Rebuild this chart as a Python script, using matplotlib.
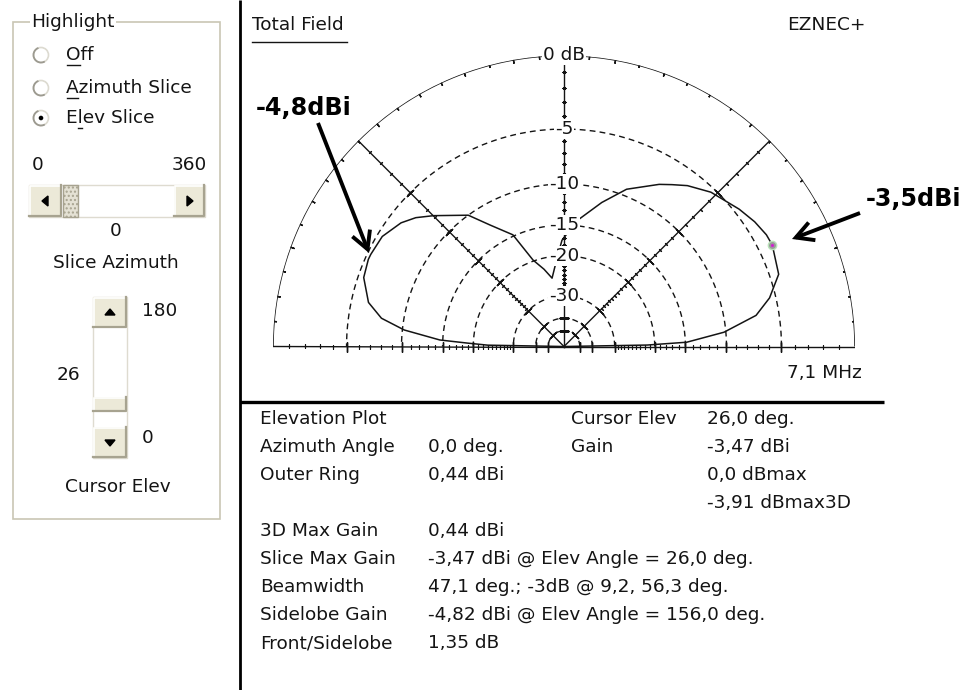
import numpy as np
import matplotlib
matplotlib.use("Agg")
import matplotlib.pyplot as plt
from matplotlib.patches import Rectangle, Circle, Arc, Polygon, FancyArrowPatch
from matplotlib.font_manager import FontProperties

plt.rcParams['font.family'] = ['DejaVu Sans']

W, H, DPI = 966, 690, 100

# ---- elevation pattern (total field, azimuth 0 deg, 7.1 MHz) ----
elev_deg = [0, 1, 2.0, 5.1, 9.2, 13.3, 18.6, 26, 28.9, 33.2, 38.1, 46.4, 52.5,
            56.3, 59.6, 68.3, 75.3, 84.1, 91.1, 94.5, 99.9, 104.5, 109.7, 114.6,
            121.3, 126.1, 134.9, 139, 142.8, 148.8, 154.5, 156, 161, 167.3,
            171.2, 174.1, 177, 178, 179, 180]
gain_dbi = [-98.56, -21.06, -14.36, -9.76, -6.47, -5.06, -3.86, -3.47, -3.51,
            -3.76, -4.16, -4.91, -5.76, -6.47, -7.06, -8.86, -11.06, -13.86,
            -16.86, -19.96, -24.16, -21.76, -19.36, -14.36, -11.86, -9.56,
            -7.36, -6.31, -5.61, -4.96, -4.83, -4.82, -5.01, -5.96, -7.36,
            -9.76, -14.16, -18.56, -22.56, -98.56]

outer_ring_dbi = 0.44
cursor_elev = 26.0
cursor_gain = -3.47

ring_levels = [-5, -10, -15, -20, -30, -40, -50]          # dB below outer ring
ring_labels = ["-5", "-10", "-15", "-20", "-30", None, None]
minor_levels = [-d for d in range(1, 31) if -d not in ring_levels]

info_labels = ["Elevation Plot", "Azimuth Angle", "Outer Ring", "",
               "3D Max Gain", "Slice Max Gain", "Beamwidth", "Sidelobe Gain",
               "Front/Sidelobe"]
info_values = ["", "0,0 deg.", "0,44 dBi", "",
               "0,44 dBi", "-3,47 dBi @ Elev Angle = 26,0 deg.",
               "47,1 deg.; -3dB @ 9,2, 56,3 deg.",
               "-4,82 dBi @ Elev Angle = 156,0 deg.", "1,35 dB"]
cursor_labels = ["Cursor Elev", "Gain", "", ""]
cursor_values = ["26,0 deg.", "-3,47 dBi", "0,0 dBmax", "-3,91 dBmax3D"]

FS = 13.3
FONT = 'DejaVu Sans'
INK = '#141414'

fig = plt.figure(figsize=(W / DPI, H / DPI), dpi=DPI)
fig.patch.set_facecolor('white')

# ---- polar plot on the ARRL log scale ----
cx, cy, R = 564.0, 346.5, 291.0
pax = fig.add_axes([(cx - R) / W, (H - cy - R) / H, 2 * R / W, 2 * R / H],
                   projection='polar')
REF = outer_ring_dbi
FLOOR = -200.0


def fwd(g):
    return 0.89 ** (-(np.asarray(g, float) - REF) / 2.0)


def inv(r):
    r = np.clip(np.asarray(r, float), 1e-300, None)
    return REF - 2.0 * np.log(r) / np.log(0.89)


pax.set_rscale('function', functions=(fwd, inv))
pax.set_rlim(FLOOR, REF)
pax.set_xticks([])
pax.set_yticks([])
pax.grid(False)
pax.spines['polar'].set_visible(False)
pax.patch.set_alpha(0)

half = np.linspace(0, np.pi, 721)
# outer ring
pax.plot(half, np.full_like(half, REF), color=INK, lw=1.1, solid_capstyle='butt')
# dashed rings
for lev in ring_levels:
    pax.plot(half, np.full_like(half, REF + lev), color=INK, lw=1.0,
             linestyle=(0, (4.2, 3.0)))

# radial axes: baseline, 45, 90, 135 degrees
for ang in [0, 45, 90, 135, 180]:
    th = np.radians(ang)
    pax.plot([th, th], [FLOOR, REF], color=INK, lw=1.0)
    pax.plot(np.full(len(minor_levels), th), [REF + m for m in minor_levels],
             linestyle='none', marker=(2, 2, ang), markersize=2.6,
             markeredgecolor=INK, markeredgewidth=0.8)
    pax.plot(np.full(len(ring_levels), th), [REF + m for m in ring_levels],
             linestyle='none', marker=(2, 2, ang), markersize=7.0,
             markeredgecolor=INK, markeredgewidth=1.0)

# ticks on the outer ring every 5 degrees
for ang in range(5, 180, 5):
    pax.plot([np.radians(ang)], [REF], linestyle='none',
             marker=(2, 2, ang - 90), markersize=3.6 if ang % 10 else 4.6,
             markeredgecolor=INK, markeredgewidth=1.0)

# ring labels along the vertical axis
lab_box = dict(facecolor='white', edgecolor='none', pad=0.6)
pax.text(np.pi / 2, REF, "0 dB", ha='center', va='center', fontsize=FS,
         color=INK, bbox=lab_box)
for lev, lab in zip(ring_levels, ring_labels):
    if lab:
        pax.text(np.pi / 2, REF + lev, lab, ha='center', va='center',
                 fontsize=FS, color=INK, bbox=lab_box)

# pattern
pax.plot(np.radians(elev_deg), gain_dbi, color=INK, lw=1.1, solid_joinstyle='round')

# cursor marker
pax.plot([np.radians(cursor_elev)], [cursor_gain], linestyle='none', marker='o',
         markersize=6, markerfacecolor='#9a9a9a', markeredgecolor='#b9e3b9',
         markeredgewidth=1.0, zorder=5)
pax.plot([np.radians(cursor_elev)], [cursor_gain], linestyle='none', marker='o',
         markersize=2.2, markerfacecolor='#d020d0', markeredgecolor='none', zorder=6)

# ---- overlay in pixel units for the window chrome and text ----
uax = fig.add_axes([0, 0, 1, 1])
uax.set_xlim(0, W)
uax.set_ylim(H, 0)
uax.axis('off')
uax.patch.set_alpha(0)
uax.set_zorder(pax.get_zorder() + 1)


def txt(x, y, s, ha='left', **kw):
    return uax.text(x, y, s, ha=ha, va='center', fontsize=FS, family=FONT,
                    color=INK, **kw)


# panel dividers
uax.plot([240, 240], [0, H], color='black', lw=2.0, solid_capstyle='butt')
uax.plot([240, 884], [402, 402], color='black', lw=2.4, solid_capstyle='butt')

# header texts
txt(252, 25, "Total Field")
uax.plot([252, 347], [41.5, 41.5], color=INK, lw=1.0)
txt(787, 25, "EZNEC+")
txt(862, 373, "7,1 MHz", ha='right')

# info table
row_y0, row_dy = 419, 28
for i, (lab, val) in enumerate(zip(info_labels, info_values)):
    y = row_y0 + i * row_dy
    if lab:
        txt(260, y, lab)
    if val:
        txt(428, y, val)
for i, (lab, val) in enumerate(zip(cursor_labels, cursor_values)):
    y = row_y0 + i * row_dy
    if lab:
        txt(571, y, lab)
    txt(707, y, val)

# annotations
bold = dict(fontsize=17.2, family=FONT, fontweight='bold', color='black',
            va='center', ha='left')
uax.text(256, 108, "-4,8dBi", **bold)
uax.text(866, 199, "-3,5dBi", **bold)
astyle = "->, head_length=12.5, head_width=6.8"
for tail, tip in [((318, 123), (369, 253)), ((860, 213), (792, 239))]:
    uax.add_patch(FancyArrowPatch(tail, tip, arrowstyle=astyle, mutation_scale=1,
                                  color='black', lw=2.8, shrinkA=0, shrinkB=0,
                                  joinstyle='miter', capstyle='butt'))

# ---- left control panel ----
FRAME = '#c9c6b4'
uax.add_patch(Rectangle((13, 22), 207, 497, fill=False, edgecolor=FRAME, lw=1.2))
txt(31, 22, "Highlight", bbox=dict(facecolor='white', edgecolor='none', pad=0.8))

renderer = fig.canvas.get_renderer()
fp = FontProperties(family=FONT, size=FS)


def px_width(s):
    if not s:
        return 0.0
    w, h, d = renderer.get_text_width_height_descent(s, fp, ismath=False)
    return w


radio = [("Off", 0, 55, False), ("Azimuth Slice", 0, 88, False),
         ("Elev Slice", 1, 118, True)]
for label, ul, y, on in radio:
    x0 = 41
    uax.add_patch(Circle((x0, y), 7.5, facecolor='white', edgecolor='#dcdad0', lw=1.2))
    uax.add_patch(Arc((x0, y), 15, 15, theta1=60, theta2=250, color='#9c9a90', lw=1.3))
    if on:
        uax.add_patch(Circle((x0, y), 2.3, facecolor='black', edgecolor='none'))
    tx = 66
    txt(tx, y, label)
    a = tx + px_width(label[:ul])
    b = tx + px_width(label[:ul + 1])
    uax.plot([a + 0.5, b - 0.5], [y + 10, y + 10], color=INK, lw=1.0)


def button(x0, y0, x1, y1):
    uax.add_patch(Rectangle((x0, y0), x1 - x0, y1 - y0, facecolor='#ece9d8',
                            edgecolor='none'))
    uax.plot([x0 + 0.5, x0 + 0.5, x1 - 1], [y1 - 1, y0 + 0.5, y0 + 0.5],
             color='white', lw=1.2)
    uax.plot([x0, x1 - 0.7, x1 - 0.7], [y1 - 0.7, y1 - 0.7, y0],
             color='#a7a390', lw=1.6)


# horizontal scroll bar
uax.add_patch(Rectangle((29, 185), 176, 32, facecolor='white', edgecolor='#dedbd0', lw=1.0))
button(29, 185, 62, 217)
button(174, 185, 205, 217)
uax.add_patch(Rectangle((63, 185), 15, 32, facecolor='#e4e1d4', edgecolor='#a7a390',
                        lw=1.0, hatch='....'))
uax.add_patch(Polygon([(42, 201), (48, 196), (48, 206)], closed=True, color='black'))
uax.add_patch(Polygon([(193, 201), (187, 196), (187, 206)], closed=True, color='black'))
txt(32, 165, "0")
txt(207, 165, "360", ha='right')
txt(116, 231, "0", ha='center')
txt(116, 263, "Slice Azimuth", ha='center')

# vertical scroll bar
uax.add_patch(Rectangle((93, 297), 34, 161, facecolor='white', edgecolor='#dedbd0', lw=1.0))
button(93, 297, 127, 328)
button(93, 397, 127, 412)
button(93, 427, 127, 458)
uax.add_patch(Polygon([(105, 315), (115, 315), (110, 309)], closed=True, color='black'))
uax.add_patch(Polygon([(105, 440), (115, 440), (110, 446)], closed=True, color='black'))
txt(142, 311, "180")
txt(80, 375, "26", ha='right')
txt(142, 438, "0")
txt(118, 487, "Cursor Elev", ha='center')

fig.savefig("out.png", dpi=DPI, facecolor='white')
